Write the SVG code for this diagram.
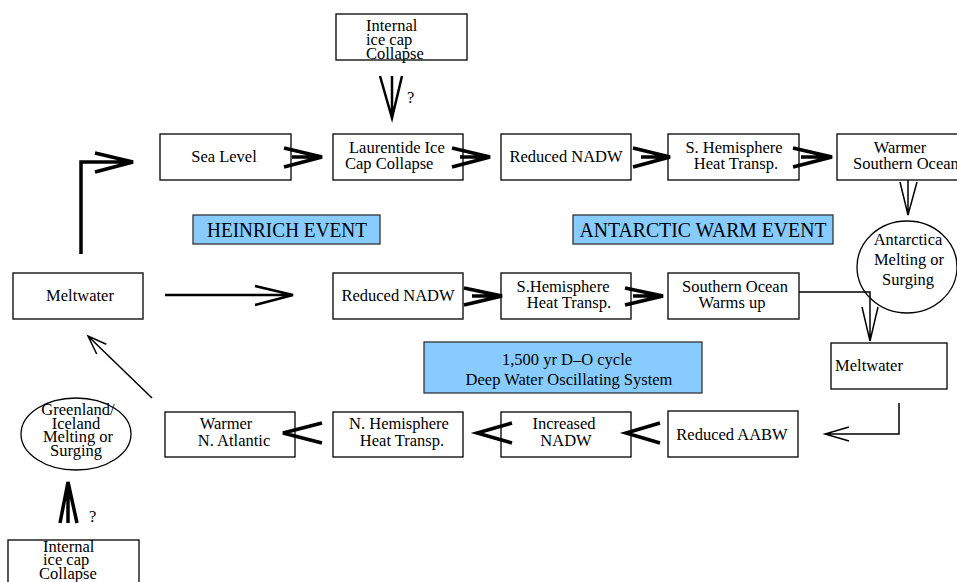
<svg xmlns="http://www.w3.org/2000/svg" width="957" height="582" viewBox="0 0 957 582" font-family="Liberation Serif, DejaVu Serif, serif">
<style>
text{font-family:"Liberation Serif","DejaVu Serif",serif;font-size:16.5px;fill:#000}
.box{fill:#fff;stroke:#000;stroke-width:1.3}
.blue{fill:#88ccff;stroke:#333;stroke-width:1.3}
.big{font-size:20px}
.c{text-anchor:middle}
.thick{fill:none;stroke:#000;stroke-width:3.5;stroke-linecap:butt}
.med{fill:none;stroke:#000;stroke-width:2.5}
.thin{fill:none;stroke:#000;stroke-width:1.5}
</style>
<rect width="957" height="582" fill="#fff"/>

<g id="internal-top">
<rect class="box" x="336" y="14" width="131" height="46"/>
<text x="366" y="31" font-size="19">Internal</text>
<text x="366" y="45" font-size="19">ice cap</text>
<text x="366" y="59" font-size="19">Collapse</text>
</g>
<g id="sea-level"><rect class="box" x="160" y="134" width="131" height="46"/><text class="c" x="224" y="162">Sea Level</text></g>
<g id="laurentide"><rect class="box" x="333" y="134" width="130" height="46"/><text x="349" y="153">Laurentide Ice</text><text x="345" y="169">Cap Collapse</text></g>
<g id="reduced-nadw-1"><rect class="box" x="501" y="134" width="130" height="46"/><text class="c" x="566" y="162">Reduced NADW</text></g>
<g id="s-hem-1"><rect class="box" x="668" y="134" width="131" height="46"/><text class="c" x="734" y="153">S. Hemisphere</text><text class="c" x="736" y="169">Heat Transp.</text></g>
<g id="warmer-southern"><rect class="box" x="837" y="134" width="140" height="46"/><text class="c" x="900" y="153">Warmer</text><text x="853" y="169">Southern Ocean</text></g>
<g id="antarctica"><ellipse class="box" cx="907" cy="267" rx="50" ry="46"/><text class="c" x="908" y="245">Antarctica</text><text class="c" x="909" y="265">Melting or</text><text class="c" x="908" y="285">Surging</text></g>
<g id="heinrich"><rect class="blue" x="193" y="215" width="187" height="29"/><text class="c big" x="287" y="237" textLength="160" lengthAdjust="spacingAndGlyphs">HEINRICH EVENT</text></g>
<g id="antarctic-warm"><rect class="blue" x="573" y="215" width="260" height="29"/><text class="c big" x="703" y="237" textLength="247" lengthAdjust="spacingAndGlyphs">ANTARCTIC WARM EVENT</text></g>
<g id="meltwater-left"><rect class="box" x="13" y="273" width="130" height="46"/><text class="c" x="80" y="301">Meltwater</text></g>
<g id="reduced-nadw-2"><rect class="box" x="333" y="273" width="130" height="46"/><text class="c" x="398" y="301">Reduced NADW</text></g>
<g id="s-hem-2"><rect class="box" x="501" y="273" width="130" height="46"/><text class="c" x="563" y="292">S.Hemisphere</text><text class="c" x="569" y="308">Heat Transp.</text></g>
<g id="southern-warms"><rect class="box" x="668" y="273" width="131" height="46"/><text class="c" x="735" y="292">Southern Ocean</text><text class="c" x="732" y="308">Warms up</text></g>
<g id="do-cycle"><rect class="blue" x="424" y="342" width="278" height="51"/><text class="c" x="567" y="365" font-size="19.5">1,500 yr D–O cycle</text><text class="c" x="569" y="385" font-size="19.5">Deep Water Oscillating System</text></g>
<g id="meltwater-right"><rect class="box" x="831" y="343" width="116" height="46"/><text class="c" x="869" y="371">Meltwater</text></g>
<g id="greenland"><ellipse class="box" cx="76" cy="434" rx="55" ry="36"/><text class="c" x="78" y="415">Greenland/</text><text class="c" x="76" y="428.5">Iceland</text><text class="c" x="78" y="442">Melting or</text><text class="c" x="76" y="455.5">Surging</text></g>
<g id="warmer-n-atlantic"><rect class="box" x="165" y="412" width="130" height="45"/><text class="c" x="226" y="429">Warmer</text><text class="c" x="234" y="446">N. Atlantic</text></g>
<g id="n-hem"><rect class="box" x="333" y="412" width="130" height="45"/><text class="c" x="399" y="429">N. Hemisphere</text><text class="c" x="402" y="446">Heat Transp.</text></g>
<g id="increased-nadw"><rect class="box" x="501" y="412" width="130" height="45"/><text class="c" x="564" y="429">Increased</text><text class="c" x="566" y="446">NADW</text></g>
<g id="reduced-aabw"><rect class="box" x="668" y="411" width="130" height="46"/><text class="c" x="732" y="440">Reduced AABW</text></g>
<g id="internal-bottom">
<rect class="box" x="8" y="540" width="131" height="50"/>
<text x="43" y="552">Internal</text>
<text x="43" y="565">ice cap</text>
<text x="39" y="578.5">Collapse</text>
</g>

<g id="connectors">
<path class="med" d="M392 76V118M380 76L392 118L402 76"/>
<text x="407" y="103" font-size="16.5">?</text>
<path class="thick" d="M81 254V162H131M95 153L133 162L95 172"/>
<path class="thick" d="M284 148L322 157L284 167M292 157H318"/>
<path class="thick" d="M452 148L490 157L452 167M460 157H486"/>
<path class="thick" d="M633 148L670 157L633 167M641 157H666"/>
<path class="thick" d="M793 148L832 157L793 167M801 157H828"/>
<path class="thin" d="M908 180V215M900 182L908 215L917 182"/>
<path class="med" d="M165 295H292M255 286L293 295L255 305"/>
<path class="thick" d="M464 288L502 296L464 305M472 296H498"/>
<path class="thick" d="M625 288L663 296L625 305M633 296H659"/>
<path class="thin" d="M799 292H870V340M862 307L870 341L878 307"/>
<path class="thin" d="M899 403V434H826M849 427L825 434L849 441"/>
<path class="thick" d="M660 423L626 433L660 443"/>
<path class="thick" d="M512 423L477 433L512 443"/>
<path class="thick" d="M322 423L283 433L322 443"/>
<path class="thin" d="M152 398L89 337M96.7 354L88 336L106.3 344.2"/>
<path class="thick" d="M68 484V523M60 523L68 482L77 523"/>
<text x="89" y="522" font-size="16.5">?</text>
</g>
</svg>
